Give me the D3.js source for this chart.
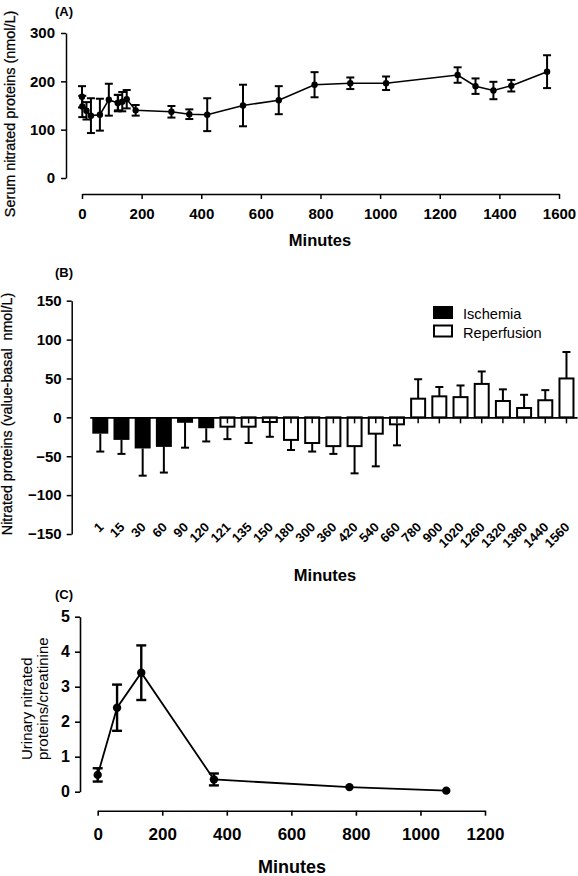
<!DOCTYPE html>
<html>
<head>
<meta charset="utf-8">
<script src="https://cdn.jsdelivr.net/npm/d3@7"></script>
<style>
  html, body { margin: 0; padding: 0; background: #fff; }
  svg { display: block; font-family: "Liberation Sans", Arial, sans-serif; }
</style>
</head>
<body>
<svg id="chart" width="578" height="876"></svg>
<script>
// ---------- Data ----------
// Panel A: serum nitrated proteins (nmol/L)
const minutesA = [0, 1, 15, 30, 60, 90, 120, 121, 135, 150, 180, 300, 360, 420, 540, 660, 780, 900, 1020, 1260, 1320, 1380, 1440, 1560];
const meanA    = [168, 148, 139, 129, 131, 162, 155, 156, 158, 163, 140, 137, 132, 131, 150, 161, 193, 196, 196, 213, 190, 181, 191, 220];
const errA     = [22, 22, 18, 36, 33, 33, 17, 16, 20, 19, 11, 12, 10, 34, 43, 29, 26, 12, 14, 16, 16, 18, 12, 34];
const xTicksA  = [0, 200, 400, 600, 800, 1000, 1200, 1400, 1600];
const yTicksA  = [0, 100, 200, 300];

// Panel B: nitrated proteins (value - basal)
const categoriesB = ["1", "15", "30", "60", "90", "120", "121", "135", "150", "180", "300", "360", "420", "540", "660", "780", "900", "1020", "1260", "1320", "1380", "1440", "1560"];
const valuesB = [-21, -29, -40, -38, -7, -14, -12, -12, -6, -29, -33, -37, -37, -21, -9, 24, 27, 26, 43, 21, 12, 22, 50];
const errB    = [23, 18, 35, 33, 32, 17, 16, 21, 19, 13, 11, 10, 35, 42, 27, 25, 12, 15, 16, 15, 17, 13, 34];
const phaseB  = ["Ischemia", "Ischemia", "Ischemia", "Ischemia", "Ischemia", "Ischemia",
                 "Reperfusion", "Reperfusion", "Reperfusion", "Reperfusion", "Reperfusion", "Reperfusion",
                 "Reperfusion", "Reperfusion", "Reperfusion", "Reperfusion", "Reperfusion", "Reperfusion",
                 "Reperfusion", "Reperfusion", "Reperfusion", "Reperfusion", "Reperfusion"];
const yTicksB = [-150, -100, -50, 0, 50, 100, 150];
const legendB = ["Ischemia", "Reperfusion"];

// Panel C: urinary nitrated proteins / creatinine
const minutesC = [0, 60, 135, 360, 780, 1080];
const meanC    = [0.48, 2.4, 3.4, 0.35, 0.13, 0.03];
const errC     = [0.19, 0.66, 0.78, 0.17, 0, 0];
const xTicksC  = [0, 200, 400, 600, 800, 1000, 1200];
const yTicksC  = [0, 1, 2, 3, 4, 5];

// ---------- Drawing ----------
const svg = d3.select("#chart");
const fmt = d3.format("d");

function styleAxis(g, fontSize, sw) {
  g.select(".domain").attr("stroke", "#000").attr("stroke-width", sw);
  g.selectAll(".tick line").attr("stroke", "#000").attr("stroke-width", sw);
  g.selectAll(".tick text").attr("fill", "#000").attr("font-size", fontSize)
    .attr("font-weight", "bold").attr("font-family", "Liberation Sans, Arial, sans-serif");
}

// ===== Panel A =====
{
  const x = d3.scaleLinear().domain([0, 1600]).range([82, 559]);
  const y = d3.scaleLinear().domain([0, 300]).range([178, 33]);
  const xAxisY = 194, yAxisX = 66;

  const gy = svg.append("g").attr("transform", `translate(${yAxisX},0)`)
    .call(d3.axisLeft(y).tickValues(yTicksA).tickFormat(fmt).tickSize(5).tickSizeOuter(0).tickPadding(6));
  styleAxis(gy, 15, 1.5);
  const gx = svg.append("g").attr("transform", `translate(0,${xAxisY})`)
    .call(d3.axisBottom(x).tickValues(xTicksA).tickFormat(fmt).tickSize(5).tickSizeOuter(0).tickPadding(9));
  styleAxis(gx, 15, 1.5);

  const data = minutesA.map((m, i) => ({ m, v: meanA[i], e: errA[i] }));
  svg.append("path").datum(data)
    .attr("fill", "none").attr("stroke", "#000").attr("stroke-width", 1.6)
    .attr("d", d3.line().x(d => x(d.m)).y(d => y(d.v)));

  const eb = svg.append("g").attr("stroke", "#000").attr("stroke-width", 2);
  data.forEach(d => {
    const cx = x(d.m), y1 = y(d.v + d.e), y2 = y(d.v - d.e);
    eb.append("line").attr("x1", cx).attr("x2", cx).attr("y1", y1).attr("y2", y2);
    eb.append("line").attr("x1", cx - 4).attr("x2", cx + 4).attr("y1", y1).attr("y2", y1);
    eb.append("line").attr("x1", cx - 4).attr("x2", cx + 4).attr("y1", y2).attr("y2", y2);
  });
  svg.append("g").selectAll("circle").data(data).join("circle")
    .attr("cx", d => x(d.m)).attr("cy", d => y(d.v)).attr("r", 3.2).attr("fill", "#000");

  svg.append("text").attr("x", 55).attr("y", 16).attr("font-size", 13).attr("font-weight", "bold").text("(A)");
  svg.append("text").attr("transform", `translate(15,114) rotate(-90)`).attr("text-anchor", "middle")
    .attr("font-size", 14.4).attr("stroke", "#000").attr("stroke-width", 0.25).text("Serum nitrated proteins (nmol/L)");
  svg.append("text").attr("x", 320).attr("y", 246).attr("text-anchor", "middle")
    .attr("font-size", 16.5).attr("font-weight", "bold").text("Minutes");
}

// ===== Panel B =====
{
  const step = 21.19;
  const x = d3.scaleBand().domain(categoriesB).range([89.7, 89.7 + step * categoriesB.length])
    .paddingInner(0.245).paddingOuter(0.1225);
  const y = d3.scaleLinear().domain([-150, 150]).range([534, 300.7]);
  const yAxisX = 71.7;

  const gy = svg.append("g").attr("transform", `translate(${yAxisX},0)`)
    .call(d3.axisLeft(y).tickValues(yTicksB).tickFormat(fmt).tickSize(5).tickSizeOuter(0).tickPadding(5));
  styleAxis(gy, 15, 1.5);

  // category axis along zero line (ticks down)
  const gx = svg.append("g").attr("transform", `translate(0,${y(0)})`)
    .call(d3.axisBottom(x).tickSize(6).tickSizeOuter(0).tickFormat(""));
  gx.select(".domain").attr("stroke", "#000").attr("stroke-width", 1.6);
  gx.selectAll(".tick line").attr("stroke", "#000").attr("stroke-width", 1.5);

  const data = categoriesB.map((c, i) => ({ c, v: valuesB[i], e: errB[i], p: phaseB[i] }));

  // error bars (one-sided)
  const eb = svg.append("g").attr("stroke", "#000").attr("stroke-width", 2);
  data.forEach(d => {
    const cx = x(d.c) + x.bandwidth() / 2;
    const yEnd = y(d.v + Math.sign(d.v) * d.e);
    eb.append("line").attr("x1", cx).attr("x2", cx).attr("y1", y(d.v)).attr("y2", yEnd);
    eb.append("line").attr("x1", cx - 4).attr("x2", cx + 4).attr("y1", yEnd).attr("y2", yEnd);
  });

  svg.append("g").selectAll("rect").data(data).join("rect")
    .attr("x", d => x(d.c) + (d.p === "Ischemia" ? 0 : 1))
    .attr("width", d => x.bandwidth() - (d.p === "Ischemia" ? 0 : 2))
    .attr("y", d => Math.min(y(d.v), y(0)))
    .attr("height", d => Math.abs(y(d.v) - y(0)))
    .attr("fill", d => d.p === "Ischemia" ? "#000" : "none")
    .attr("stroke", "#000").attr("stroke-width", d => d.p === "Ischemia" ? 0 : 2);

  // rotated category labels
  svg.append("g").selectAll("text").data(categoriesB).join("text")
    .attr("transform", d => `translate(${x(d) + x.bandwidth() / 2 + 4},${528}) rotate(-45)`)
    .attr("text-anchor", "end").attr("font-size", 13).attr("font-weight", "bold").text(d => d);

  // legend
  const lg = svg.append("g");
  legendB.forEach((name, i) => {
    const yy = 307 + i * 18.5;
    lg.append("rect").attr("x", 434).attr("y", yy).attr("width", 18).attr("height", 11)
      .attr("fill", name === "Ischemia" ? "#000" : "#fff").attr("stroke", "#000").attr("stroke-width", 2);
    lg.append("text").attr("x", 463).attr("y", yy + 12).attr("font-size", 14.6).text(name);
  });

  svg.append("text").attr("x", 55).attr("y", 277).attr("font-size", 13).attr("font-weight", "bold").text("(B)");
  svg.append("text").attr("transform", `translate(12,414) rotate(-90)`).attr("text-anchor", "middle")
    .attr("font-size", 14.3).attr("stroke", "#000").attr("stroke-width", 0.25)
    .attr("xml:space", "preserve").text("Nitrated proteins (value-basal\u00a0 nmol/L)");
  svg.append("text").attr("x", 325).attr("y", 581).attr("text-anchor", "middle")
    .attr("font-size", 16.5).attr("font-weight", "bold").text("Minutes");
}

// ===== Panel C =====
{
  const x = d3.scaleLinear().domain([0, 1200]).range([97.7, 485]);
  const y = d3.scaleLinear().domain([0, 5]).range([791.7, 616.7]);
  const xAxisY = 810.7, yAxisX = 80;

  const gy = svg.append("g").attr("transform", `translate(${yAxisX},0)`)
    .call(d3.axisLeft(y).tickValues(yTicksC).tickFormat(fmt).tickSize(5).tickSizeOuter(0).tickPadding(5));
  styleAxis(gy, 16, 1.6);
  const gx = svg.append("g").attr("transform", `translate(0,${xAxisY})`)
    .call(d3.axisBottom(x).tickValues(xTicksC).tickFormat(fmt).tickSize(5).tickSizeOuter(0).tickPadding(12));
  styleAxis(gx, 17, 1.6);

  const data = minutesC.map((m, i) => ({ m, v: meanC[i], e: errC[i] }));
  svg.append("path").datum(data)
    .attr("fill", "none").attr("stroke", "#000").attr("stroke-width", 1.8)
    .attr("d", d3.line().x(d => x(d.m)).y(d => y(d.v)));

  const eb = svg.append("g").attr("stroke", "#000").attr("stroke-width", 2.4);
  data.filter(d => d.e > 0).forEach(d => {
    const cx = x(d.m), y1 = y(d.v + d.e), y2 = y(d.v - d.e);
    eb.append("line").attr("x1", cx).attr("x2", cx).attr("y1", y1).attr("y2", y2);
    eb.append("line").attr("x1", cx - 5).attr("x2", cx + 5).attr("y1", y1).attr("y2", y1);
    eb.append("line").attr("x1", cx - 5).attr("x2", cx + 5).attr("y1", y2).attr("y2", y2);
  });
  svg.append("g").selectAll("circle").data(data).join("circle")
    .attr("cx", d => x(d.m)).attr("cy", d => y(d.v)).attr("r", 4.2).attr("fill", "#000");

  svg.append("text").attr("x", 55).attr("y", 599).attr("font-size", 13).attr("font-weight", "bold").text("(C)");
  const lab = svg.append("text").attr("transform", `translate(0,760) rotate(-90)`)
    .attr("text-anchor", "start").attr("font-size", 15);
  lab.append("tspan").attr("x", 0).attr("y", 32).text("Urinary nitrated");
  lab.append("tspan").attr("x", 0).attr("y", 48).text("proteins/creatinine");
  svg.append("text").attr("x", 292).attr("y", 873).attr("text-anchor", "middle")
    .attr("font-size", 18).attr("font-weight", "bold").text("Minutes");
}
</script>
</body>
</html>
